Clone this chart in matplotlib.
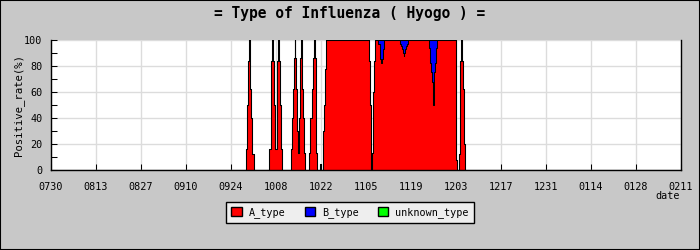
import matplotlib
matplotlib.use("Agg")
import matplotlib.pyplot as plt
from matplotlib.patches import Patch, Rectangle
import numpy as np

# days counted from 07/30, each value holds until the next entry
days = [0, 60.7, 61.0, 61.3, 61.6, 61.8, 62.0, 62.2, 62.5, 63.1,
        67.9, 68.35, 68.55, 68.75, 68.95, 69.3, 69.6, 70.2, 70.4, 70.7,
        71.0, 71.35, 71.65, 71.9,
        74.7, 75.05, 75.4, 75.6, 75.8, 76.0, 76.2, 76.5, 76.75, 77.05,
        77.4, 77.55, 77.8, 78.0, 78.2, 78.5, 78.7, 79.0,
        80.3, 80.7, 81.1, 81.5, 81.9, 82.15, 82.35, 82.55, 82.75,
        83.8, 84.0,
        84.5, 84.7, 84.9, 85.25, 85.55, 98.85, 99.25, 99.45, 99.65,
        99.85, 100.05, 100.25, 100.5, 100.7,
        101.85, 102.25, 102.45, 102.65, 102.9, 103.3, 103.5, 103.7,
        108.6, 108.9, 109.2, 109.5, 109.75, 109.9, 110.05, 110.35, 110.65, 110.95,
        117.6, 117.9, 118.2, 118.45, 118.75, 118.95, 119.05, 119.15, 119.25,
        119.45, 119.8, 120.0,
        126.0, 126.4, 126.85, 127.1, 127.35, 127.55, 127.8, 128.25, 128.6, 128.9,
        196]

a_type = [0, 16, 50, 84, 100, 86, 62, 40, 12, 0,
          16, 50, 84, 100, 84, 50, 16, 50, 84, 100,
          84, 50, 16, 0,
          16, 40, 62, 86, 100, 86, 62, 30, 13, 40,
          62, 86, 100, 86, 62, 40, 13, 0,
          13, 40, 62, 86, 100, 86, 40, 13, 0,
          5, 0,
          16, 30, 50, 78, 100, 84, 50, 22, 0,
          13, 36, 60, 84, 100,
          97, 93, 85, 82, 85, 93, 97, 100,
          97, 95, 93, 90, 88, 90, 93, 95, 97, 100,
          94, 82, 75, 68, 59, 50, 59, 68, 75,
          82, 94, 100,
          8, 0, 12, 50, 84, 100, 84, 62, 20, 0,
          0]

b_type = [0, 0, 0, 0, 0, 0, 0, 0, 0, 0,
          0, 0, 0, 0, 0, 0, 0, 0, 0, 0,
          0, 0, 0, 0,
          0, 0, 0, 0, 0, 0, 0, 0, 0, 0,
          0, 0, 0, 0, 0, 0, 0, 0,
          0, 0, 0, 0, 0, 0, 0, 0, 0,
          0, 0,
          0, 0, 0, 0, 0, 0, 0, 0, 0,
          0, 0, 0, 0, 0,
          3, 7, 15, 18, 15, 7, 3, 0,
          3, 5, 7, 10, 12, 10, 7, 5, 3, 0,
          6, 18, 25, 32, 41, 50, 41, 32, 25,
          18, 6, 0,
          0, 0, 0, 0, 0, 0, 0, 0, 0, 0,
          0]

unknown_type = [0] * len(days)

tick_days = [0, 14, 28, 42, 56, 70, 84, 98, 112, 126, 140, 154, 168, 182, 196]
tick_labels = ["0730", "0813", "0827", "0910", "0924", "1008", "1022", "1105",
               "1119", "1203", "1217", "1231", "0114", "0128", "0211"]

plt.rcParams['font.family'] = ['DejaVu Sans Mono']

x = np.array(days)
a = np.array(a_type, dtype=float)
b = np.array(b_type, dtype=float)
u = np.array(unknown_type, dtype=float)

fig = plt.figure(figsize=(7, 2.5), dpi=100)
fig.patch.set_facecolor('#c8c8c8')
fig.patches.append(Rectangle((0, 0), 1, 1, transform=fig.transFigure, fill=False,
                             edgecolor='black', linewidth=1.5))
ax = fig.add_axes([51/700, 80/250, 630/700, 130/250])
ax.set_facecolor('white')

ax.fill_between(x, 0, a, step='post', color='#ff0000', linewidth=0)
ax.fill_between(x, a, a + b, step='post', color='#0000ff', linewidth=0)
ax.fill_between(x, a + b, a + b + u, step='post', color='#00ff00', linewidth=0)
ax.plot(x, a, drawstyle='steps-post', color='black', linewidth=0.75)
ax.plot(x, a + b, drawstyle='steps-post', color='black', linewidth=0.75)

ax.set_xlim(0, 196)
ax.set_ylim(0, 100)
ax.set_xticks(tick_days)
ax.set_xticklabels(tick_labels)
ax.set_yticks([0, 20, 40, 60, 80, 100])
ax.set_yticks(range(0, 101, 10), minor=True)
ax.grid(True, color='#dcdcdc', linewidth=1)
ax.set_axisbelow(True)
ax.tick_params(axis='both', which='both', direction='in', length=4, width=0.75,
               labelsize=7.3, color='black')
ax.tick_params(axis='x', pad=9)
ax.tick_params(axis='y', pad=6)
ax.spines['top'].set_visible(False)
ax.spines['right'].set_color('black')
for side in ['left', 'bottom', 'right']:
    ax.spines[side].set_linewidth(1)

ax.set_ylabel("Positive_rate(%)", fontsize=7.7, labelpad=0)
fig.text(680/700, 1 - 196/250, "date", ha='right', va='center', fontsize=7.3)
fig.text(0.5, 1 - 13.5/250, "= Type of Influenza ( Hyogo ) =", ha='center', va='center',
         fontsize=10.5, fontweight='bold')

handles = [Patch(facecolor='#ff0000', edgecolor='black', linewidth=1, label='A_type'),
           Patch(facecolor='#0000ff', edgecolor='black', linewidth=1, label='B_type'),
           Patch(facecolor='#00ff00', edgecolor='black', linewidth=1, label='unknown_type')]
leg = fig.legend(handles=handles, loc='center', bbox_to_anchor=(0.5, 1 - 212.8/250),
                 ncol=3, fontsize=7.3, frameon=True, fancybox=False,
                 facecolor='#eeeeee', edgecolor='black', framealpha=1,
                 handlelength=1.0, handleheight=1.0, handletextpad=0.7,
                 columnspacing=1.9, borderpad=0.5)
leg.get_frame().set_linewidth(1)

fig.savefig("out.png", dpi=100, facecolor=fig.get_facecolor())
